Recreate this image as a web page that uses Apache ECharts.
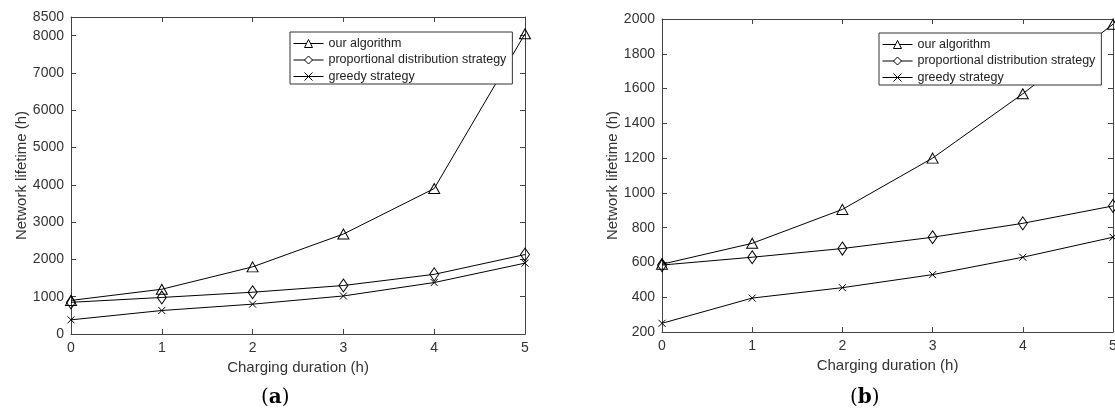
<!DOCTYPE html>
<html>
<head>
<meta charset="utf-8">
<script src="https://cdn.jsdelivr.net/npm/echarts@6/dist/echarts.min.js"></script>
<style>
  html, body { margin: 0; padding: 0; background: #fff; }
  #main { width: 1115px; height: 412px; }
</style>
</head>
<body>
<div id="main"></div>
<script>
var chartDom = document.getElementById('main');
var myChart = echarts.init(chartDom);
var option;

// charging duration (h)
const durations = [0, 1, 2, 3, 4, 5];
const seriesNames = ['our algorithm', 'proportional distribution strategy', 'greedy strategy'];

// (a) network lifetime (h)
const ourA = [900, 1200, 1800, 2680, 3900, 8050];
const propA = [850, 980, 1120, 1300, 1600, 2130];
const greedyA = [380, 630, 800, 1020, 1380, 1900];

// (b) network lifetime (h)
const ourB = [590, 710, 905, 1200, 1570, 1970];
const propB = [585, 630, 680, 745, 825, 925];
const greedyB = [250, 395, 455, 530, 630, 745];

const font = 'Liberation Sans, Arial, sans-serif';
const axisColor = '#444';
const textColor = '#333';
const trianglePath = 'path://M5,0L10,9L0,9Z';
const diamondPath = 'path://M5,0L10,7L5,14L0,7Z';
const crossPath = 'path://M0,0L10,10M10,0L0,10';

function pairs(ys) {
  return durations.map(function (x, i) { return [x, ys[i]]; });
}

function mainX(gridIndex) {
  return {
    type: 'value', gridIndex: gridIndex, min: 0, max: 5, interval: 1,
    name: 'Charging duration (h)', nameLocation: 'middle', nameGap: 23,
    nameTextStyle: { fontFamily: font, fontSize: 15, color: textColor },
    axisLine: { lineStyle: { color: axisColor, width: 1 } },
    axisTick: { inside: true, length: 5, lineStyle: { color: axisColor } },
    axisLabel: { fontFamily: font, fontSize: 14, color: textColor, margin: 7 },
    splitLine: { show: false }
  };
}
function topX(gridIndex) {
  return {
    type: 'value', gridIndex: gridIndex, position: 'top', min: 0, max: 5, interval: 1,
    axisLine: { onZero: false, lineStyle: { color: axisColor, width: 1 } },
    axisTick: { inside: true, length: 5, lineStyle: { color: axisColor } },
    axisLabel: { show: false },
    splitLine: { show: false }
  };
}
function mainY(gridIndex, min, max, interval) {
  return {
    type: 'value', gridIndex: gridIndex, min: min, max: max, interval: interval,
    name: 'Network lifetime (h)', nameLocation: 'middle', nameGap: 41,
    nameTextStyle: { fontFamily: font, fontSize: 15, color: textColor },
    axisLine: { show: true, onZero: false, lineStyle: { color: axisColor, width: 1 } },
    axisTick: { show: true, inside: true, length: 5, lineStyle: { color: axisColor } },
    axisLabel: {
      fontFamily: font, fontSize: 14, color: textColor, margin: 7,
      formatter: function (v) { return String(v); }
    },
    splitLine: { show: false }
  };
}
function rightY(gridIndex, min, max, interval) {
  return {
    type: 'value', gridIndex: gridIndex, position: 'right', min: min, max: max, interval: interval,
    axisLine: { show: true, onZero: false, lineStyle: { color: axisColor, width: 1 } },
    axisTick: { show: true, inside: true, length: 5, lineStyle: { color: axisColor } },
    axisLabel: { show: false },
    splitLine: { show: false }
  };
}

function makeSeries(name, symbol, size, xi, yi, ys) {
  return {
    name: name, type: 'line', xAxisIndex: xi, yAxisIndex: yi,
    data: pairs(ys), symbol: symbol, symbolSize: size, showAllSymbol: true,
    lineStyle: { color: '#000', width: 1 },
    itemStyle: { color: 'rgba(0,0,0,0)', borderColor: '#000', borderWidth: 1 },
    emphasis: { disabled: true }
  };
}

function makeLegend(left, top) {
  return {
    data: seriesNames, orient: 'vertical', left: left, top: top,
    backgroundColor: '#fff', borderColor: '#333', borderWidth: 1, borderRadius: 0,
    padding: [5, 6, 1, 3], itemGap: 3.5, itemWidth: 30, itemHeight: 10,
    lineStyle: { width: 1, color: '#000' },
    itemStyle: { color: '#fff', borderColor: '#000', borderWidth: 1 },
    textStyle: { fontFamily: font, fontSize: 12.5, color: '#222' },
    selectedMode: false
  };
}

const gridBase = { outerBoundsMode: 'none', containLabel: false };

option = {
  animation: false,
  backgroundColor: '#fff',
  grid: [
    Object.assign({ left: 71, top: 17, width: 454, height: 317 }, gridBase),
    Object.assign({ left: 662, top: 19, width: 451, height: 313 }, gridBase)
  ],
  xAxis: [mainX(0), topX(0), mainX(1), topX(1)],
  yAxis: [mainY(0, 0, 8500, 1000), rightY(0, 0, 8500, 1000), mainY(1, 200, 2000, 200), rightY(1, 200, 2000, 200)],
  legend: [makeLegend(290, 32), makeLegend(879, 33)],
  series: [
    makeSeries(seriesNames[0], trianglePath, [11, 10], 0, 0, ourA),
    makeSeries(seriesNames[1], diamondPath, [9, 13], 0, 0, propA),
    makeSeries(seriesNames[2], crossPath, 7, 0, 0, greedyA),
    makeSeries(seriesNames[0], trianglePath, [11, 10], 2, 2, ourB),
    makeSeries(seriesNames[1], diamondPath, [9, 13], 2, 2, propB),
    makeSeries(seriesNames[2], crossPath, 7, 2, 2, greedyB)
  ],
  graphic: [
    {
      type: 'text', left: 261, top: 388,
      style: {
        text: '({b|a})', fill: '#000',
        font: '20px "DejaVu Serif", serif',
        rich: { b: { fontWeight: 'bold', fontSize: 20, fontFamily: 'DejaVu Serif, serif' } }
      }
    },
    {
      type: 'text', left: 850, top: 388,
      style: {
        text: '({b|b})', fill: '#000',
        font: '20px "DejaVu Serif", serif',
        rich: { b: { fontWeight: 'bold', fontSize: 20, fontFamily: 'DejaVu Serif, serif' } }
      }
    }
  ]
};

option && myChart.setOption(option);
</script>
</body>
</html>
